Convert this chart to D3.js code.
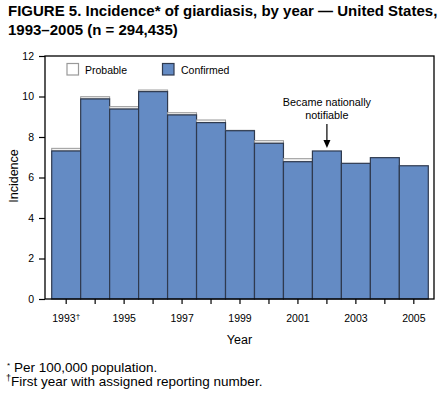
<!DOCTYPE html>
<html><head><meta charset="utf-8">
<script src="https://cdn.jsdelivr.net/npm/d3@7"></script>
<style>
body{margin:0;background:#fff;}
svg{display:block;font-family:"Liberation Sans",Arial,Helvetica,sans-serif;}
</style></head>
<body>
<svg id="chart" width="447" height="393"></svg>
<script>
const years = [1993,1994,1995,1996,1997,1998,1999,2000,2001,2002,2003,2004,2005];
const confirmed = [7.31,9.88,9.38,10.24,9.09,8.71,8.31,7.69,6.78,7.31,6.70,6.98,6.58];
const probable = [0.13,0.11,0.12,0.08,0.11,0.13,0.02,0.13,0.15,0,0,0,0];
const yTicks = [0,2,4,6,8,10,12];
const xLabelYears = [1993,1995,1997,1999,2001,2003,2005];

const svg = d3.select("#chart");
const frame = {left:45, right:434, top:56, bottom:299};

const x = d3.scaleBand().domain(years).range([51.7,428.3]).paddingInner(0).paddingOuter(0);
const y = d3.scaleLinear().domain([0,12]).range([frame.bottom, frame.top]);

// title
const title = svg.append("text").attr("x",8).attr("font-weight","bold").attr("font-size",15).attr("fill","#000");
title.append("tspan").attr("x",8).attr("y",16).text("FIGURE 5. Incidence* of giardiasis, by year \u2014 United States,");
title.append("tspan").attr("x",8).attr("y",35).text("1993\u20132005 (n = 294,435)");

// bars
const g = svg.append("g");
years.forEach((yr,i)=>{
  const c = confirmed[i], p = probable[i];
  if(p>0){
    g.append("rect").attr("x",x(yr)).attr("width",x.bandwidth())
     .attr("y",y(c+p)).attr("height",y(c)-y(c+p))
     .attr("fill","#f2f2f2").attr("stroke","#9a9a9a").attr("stroke-width",1);
  }
  g.append("rect").attr("x",x(yr)).attr("width",x.bandwidth())
   .attr("y",y(c)).attr("height",y(0)-y(c))
   .attr("fill","#648bc4").attr("stroke","#2f3a4f").attr("stroke-width",1.2);
});

// frame
svg.append("rect").attr("x",frame.left).attr("y",frame.top)
  .attr("width",frame.right-frame.left).attr("height",frame.bottom-frame.top)
  .attr("fill","none").attr("stroke","#000").attr("stroke-width",1.3);

// y axis
const ya = svg.append("g").attr("transform",`translate(${frame.left},0)`)
  .call(d3.axisLeft(y).tickValues(yTicks).tickSize(6).tickPadding(5).tickFormat(d3.format("d")));
ya.select(".domain").remove();
ya.selectAll("line").attr("stroke","#000").attr("stroke-width",1.2);
ya.selectAll("text").attr("font-size",10.5).attr("font-family",null).attr("fill","#000");

// x axis
const xa = svg.append("g").attr("transform",`translate(0,${frame.bottom})`)
  .call(d3.axisBottom(x).tickSize(5).tickPadding(11).tickFormat(d=> xLabelYears.includes(d)? String(d):""));
xa.select(".domain").remove();
xa.selectAll("line").attr("stroke","#000").attr("stroke-width",1.2);
xa.selectAll("text").attr("font-size",10.5).attr("font-family",null).attr("fill","#000");
xa.selectAll("text").filter(d=>d===1993).append("tspan").attr("dy","-0.45em").attr("font-size",8).text("\u2020");

// axis titles
svg.append("text").attr("transform","translate(18,176) rotate(-90)").attr("text-anchor","middle")
  .attr("font-size",12.5).text("Incidence");
svg.append("text").attr("x",(frame.left+frame.right)/2).attr("y",344).attr("text-anchor","middle")
  .attr("font-size",12.5).text("Year");

// legend
const leg = svg.append("g");
leg.append("rect").attr("x",67).attr("y",63.5).attr("width",11.5).attr("height",11.5)
  .attr("fill","#fff").attr("stroke","#999").attr("stroke-width",1.2);
leg.append("text").attr("x",85).attr("y",74).attr("font-size",10.5).text("Probable");
leg.append("rect").attr("x",162.5).attr("y",63.5).attr("width",11.5).attr("height",11.5)
  .attr("fill","#648bc4").attr("stroke","#2f3a4f").attr("stroke-width",1.2);
leg.append("text").attr("x",181).attr("y",74).attr("font-size",10.5).text("Confirmed");

// annotation
const ax = x(2002)+x.bandwidth()/2;
const ann = svg.append("text").attr("text-anchor","middle").attr("font-size",10.8);
ann.append("tspan").attr("x",ax).attr("y",106).text("Became nationally");
ann.append("tspan").attr("x",ax).attr("y",118.5).text("notifiable");
svg.append("line").attr("x1",ax).attr("x2",ax).attr("y1",124).attr("y2",141).attr("stroke","#000").attr("stroke-width",1.2);
svg.append("path").attr("d",`M${ax-3.5},140 L${ax+3.5},140 L${ax},${y(confirmed[9])-3} Z`).attr("fill","#000");

// footnotes
svg.append("text").attr("x",7).attr("y",370).attr("font-size",13.5)
  .call(t=>{t.append("tspan").attr("font-size",8).attr("dy","-0.3em").text("*");
            t.append("tspan").attr("dy","0.3em").text(" Per 100,000 population.");});
svg.append("text").attr("x",6).attr("y",384).attr("font-size",13.5)
  .call(t=>{t.append("tspan").attr("font-size",9).attr("dy","-0.35em").text("\u2020");
            t.append("tspan").attr("dy","0.35em").text("First year with assigned reporting number.");});
</script>
</body></html>
